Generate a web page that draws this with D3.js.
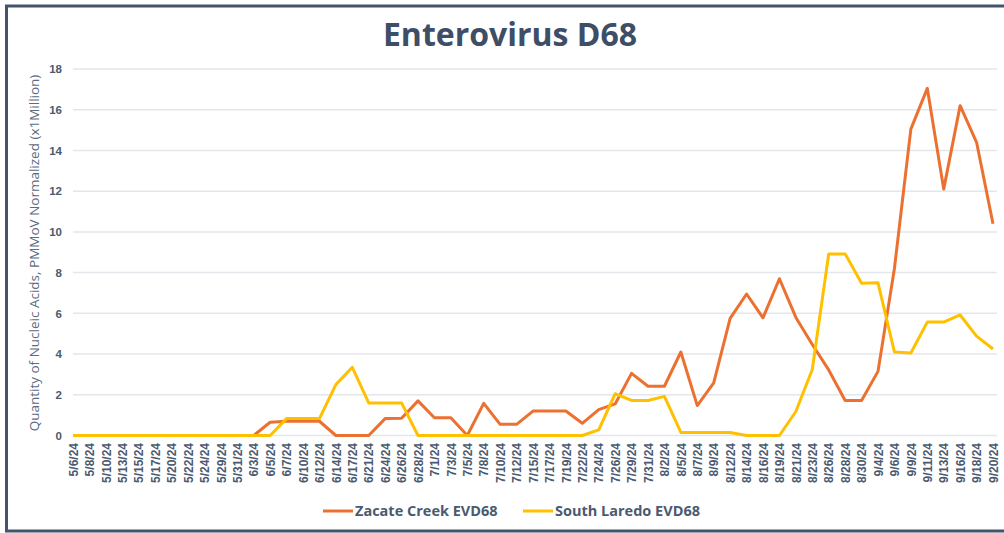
<!DOCTYPE html>
<html>
<head>
<meta charset="utf-8">
<script src="https://cdn.jsdelivr.net/npm/d3@7"></script>
<style>
  body { margin: 0; background: #fff; }
  svg { display: block; font-family: "Open Sans", "DejaVu Sans", sans-serif; }
</style>
</head>
<body>
<div id="chart"></div>
<script>
// sample dates (category axis)
var dates = ["5/6/24","5/8/24","5/10/24","5/13/24","5/15/24","5/17/24","5/20/24","5/22/24","5/24/24","5/29/24",
  "5/31/24","6/3/24","6/5/24","6/7/24","6/10/24","6/12/24","6/14/24","6/17/24","6/21/24","6/24/24",
  "6/26/24","6/28/24","7/1/24","7/3/24","7/5/24","7/8/24","7/10/24","7/12/24","7/15/24","7/17/24",
  "7/19/24","7/22/24","7/24/24","7/26/24","7/29/24","7/31/24","8/2/24","8/5/24","8/7/24","8/9/24",
  "8/12/24","8/14/24","8/16/24","8/19/24","8/21/24","8/23/24","8/26/24","8/28/24","8/30/24","9/4/24",
  "9/6/24","9/9/24","9/11/24","9/13/24","9/16/24","9/18/24","9/20/24"];

// Zacate Creek EVD68
var zacate = [0,0,0,0,0,0,0,0,0,0,
  0,0,0.65,0.7,0.7,0.7,0,0,0,0.83,
  0.85,1.7,0.87,0.87,0,1.58,0.55,0.55,1.2,1.2,
  1.2,0.6,1.27,1.55,3.05,2.42,2.42,4.1,1.47,2.58,
  5.75,6.95,5.78,7.7,5.8,4.47,3.22,1.72,1.72,3.15,
  8.2,15.05,17.05,12.1,16.2,14.4,10.4];

// South Laredo EVD68
var laredo = [0,0,0,0,0,0,0,0,0,0,
  0,0,0,0.83,0.83,0.83,2.5,3.35,1.6,1.6,
  1.6,0,0,0,0,0,0,0,0,0,
  0,0,0.28,2.05,1.72,1.72,1.92,0.15,0.15,0.15,
  0.15,0,0,0,1.18,3.24,8.92,8.92,7.48,7.5,
  4.1,4.05,5.57,5.57,5.92,4.88,4.25];

var yTicks = [0,2,4,6,8,10,12,14,16,18];

var series = [
  {name: "Zacate Creek EVD68", values: zacate, color: "#ec7130"},
  {name: "South Laredo EVD68", values: laredo, color: "#ffc000"}
];

var W = 1004, H = 533;
var margin = {top: 69, right: 9, bottom: 98, left: 73};
var width = W - margin.left - margin.right;
var height = H - margin.top - margin.bottom;

var svg = d3.select("#chart").append("svg")
  .attr("width", W)
  .attr("height", H);

// outer frame
svg.append("path")
  .attr("d", "M1006,6 H6.5 V531 H1006")
  .attr("fill", "none")
  .attr("stroke", "#44546a")
  .attr("stroke-width", 3);

svg.append("text")
  .attr("x", 510)
  .attr("y", 46)
  .attr("text-anchor", "middle")
  .style("font-size", "32px")
  .style("font-weight", "bold")
  .style("fill", "#3e4e66")
  .text("Enterovirus D68");

var g = svg.append("g")
  .attr("transform", "translate(" + margin.left + "," + margin.top + ")");

var x = d3.scalePoint().domain(dates).range([0, width - 2]);
var y = d3.scaleLinear().domain([0, 18]).range([height + 0.5, 0]);

// gridlines
g.append("g")
  .selectAll("line")
  .data(yTicks)
  .enter().append("line")
    .attr("x1", 0)
    .attr("x2", width + 2)
    .attr("y1", function(d) { return y(d); })
    .attr("y2", function(d) { return y(d); })
    .attr("stroke", "#e3e6eb")
    .attr("stroke-width", 1.5);

// y axis
var yAxis = g.append("g")
  .call(d3.axisLeft(y).tickValues(yTicks).tickSize(0).tickPadding(11));
yAxis.select(".domain").remove();
yAxis.selectAll("text")
  .style("font-size", "11.5px")
  .style("font-weight", "bold")
  .style("fill", "#4a5a70");

// x axis
var xAxis = g.append("g")
  .attr("transform", "translate(0," + height + ")")
  .call(d3.axisBottom(x).tickSize(0));
xAxis.select(".domain").remove();
xAxis.selectAll("text")
  .attr("transform", "rotate(-90)")
  .attr("x", -8)
  .attr("y", 0)
  .attr("dy", "0.35em")
  .style("text-anchor", "end")
  .style("font-size", "12px")
  .style("font-weight", "bold")
  .style("fill", "#4a5a70");

// y axis title
svg.append("text")
  .attr("transform", "translate(39,253) rotate(-90)")
  .attr("text-anchor", "middle")
  .style("font-size", "13.5px")
  .style("fill", "#5b6b82")
  .text("Quantity of Nucleic Acids, PMMoV Normalized (x1Million)");

// lines
var line = d3.line()
  .x(function(d, i) { return x(dates[i]); })
  .y(function(d) { return y(d); });

g.selectAll(".series")
  .data(series)
  .enter().append("path")
    .attr("class", "series")
    .attr("d", function(d) { return line(d.values); })
    .attr("fill", "none")
    .attr("stroke", function(d) { return d.color; })
    .attr("stroke-width", 3)
    .attr("stroke-linejoin", "round");

// legend
var legendX = [323, 523];
var legend = svg.selectAll(".legend")
  .data(series)
  .enter().append("g")
    .attr("class", "legend")
    .attr("transform", function(d, i) { return "translate(" + legendX[i] + ",511)"; });

legend.append("line")
  .attr("x1", 0).attr("x2", 30)
  .attr("stroke", function(d) { return d.color; })
  .attr("stroke-width", 3);

legend.append("text")
  .attr("x", 32)
  .attr("dy", "0.35em")
  .style("font-size", "14.5px")
  .style("font-weight", "bold")
  .style("fill", "#4a5a70")
  .text(function(d) { return d.name; });
</script>
</body>
</html>
